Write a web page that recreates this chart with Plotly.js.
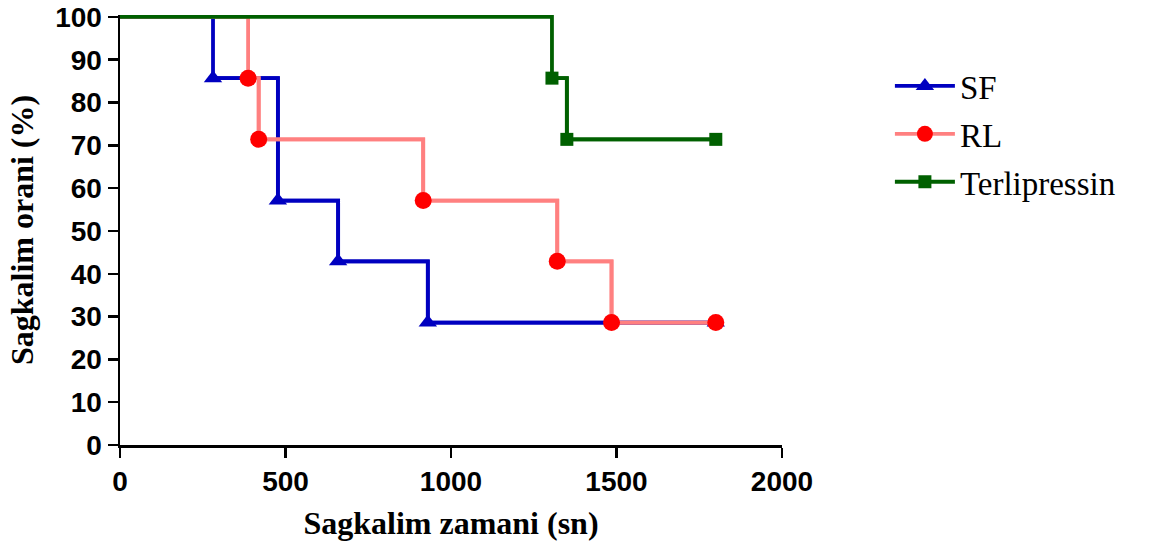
<!DOCTYPE html>
<html>
<head>
<meta charset="utf-8">
<script src="https://cdn.plot.ly/plotly-3.0.1.min.js"></script>
<style>html,body{margin:0;padding:0;background:#fff;}#chart{width:1150px;height:549px;}</style>
</head>
<body>
<div id="chart"></div>
<script>
var seriesNames = ["SF", "RL", "Terlipressin"];
var sfTime = [281, 477, 659, 930, 1800];
var sfSurv = [85.7, 57.1, 42.9, 28.6, 28.6];
var rlTime = [387, 419, 916, 1321, 1485, 1800];
var rlSurv = [85.7, 71.4, 57.1, 42.9, 28.6, 28.6];
var terTime = [1305, 1350, 1800];
var terSurv = [85.7, 71.4, 71.4];
var startTime = 0;
var startSurv = 100;
var xTickVals = [0, 500, 1000, 1500, 2000];
var yTickVals = [0, 10, 20, 30, 40, 50, 60, 70, 80, 90, 100];

var specs = [
  {name: seriesNames[0], t: sfTime, s: sfSurv, line: "#0000C0", marker: "#0000C0", symbol: "triangle-up", size: 16},
  {name: seriesNames[1], t: rlTime, s: rlSurv, line: "#FF8080", marker: "#FF0000", symbol: "circle", size: 17},
  {name: seriesNames[2], t: terTime, s: terSurv, line: "#006000", marker: "#006000", symbol: "square", size: 13}
];

var traces = [];
specs.forEach(function(sp, i) {
  traces.push({
    x: [startTime].concat(sp.t), y: [startSurv].concat(sp.s),
    mode: "lines", line: {shape: "hv", color: sp.line, width: 3.8},
    showlegend: false, legendgroup: "g" + i, hoverinfo: "skip", cliponaxis: false
  });
  traces.push({
    x: sp.t, y: sp.s, name: sp.name,
    mode: "lines+markers", line: {shape: "hv", color: sp.line, width: 3.8},
    marker: {symbol: sp.symbol, size: sp.size, color: sp.marker},
    legendgroup: "g" + i, cliponaxis: false
  });
});

var layout = {
  width: 1150, height: 549,
  margin: {l: 120, r: 368, t: 15, b: 104},
  paper_bgcolor: "#fff", plot_bgcolor: "#fff",
  showlegend: true,
  legend: {
    x: 1.163, y: 0.9, xanchor: "left", yanchor: "top",
    font: {family: "Liberation Serif", size: 33, color: "#000"},
    itemwidth: 60, tracegroupgap: 2, bgcolor: "rgba(0,0,0,0)"
  },
  xaxis: {
    range: [0, 2000], tickvals: xTickVals, ticktext: xTickVals.map(String),
    showgrid: false, zeroline: false, showline: true, linecolor: "#000", linewidth: 2.5,
    ticks: "outside", ticklen: 10, tickwidth: 2.5, tickcolor: "#000",
    tickfont: {family: "Liberation Sans", size: 28, color: "#000", weight: "bold"},
    title: {text: "<b>Sagkalim zamani (sn)</b>", font: {family: "Liberation Serif", size: 32, color: "#000"}, standoff: 16},
    automargin: false
  },
  yaxis: {
    range: [0, 100.45], tickvals: yTickVals, ticktext: yTickVals.map(String),
    showgrid: false, zeroline: false, showline: true, linecolor: "#000", linewidth: 2.5,
    ticks: "outside", ticklen: 10, tickwidth: 2.5, tickcolor: "#000",
    tickfont: {family: "Liberation Sans", size: 28, color: "#000", weight: "bold"},
    title: {text: "<b>Sagkalim orani (%)</b>", font: {family: "Liberation Serif", size: 32, color: "#000"}, standoff: 12},
    automargin: false
  }
};

Plotly.newPlot("chart", traces, layout, {displayModeBar: false, staticPlot: true});
</script>
</body>
</html>
